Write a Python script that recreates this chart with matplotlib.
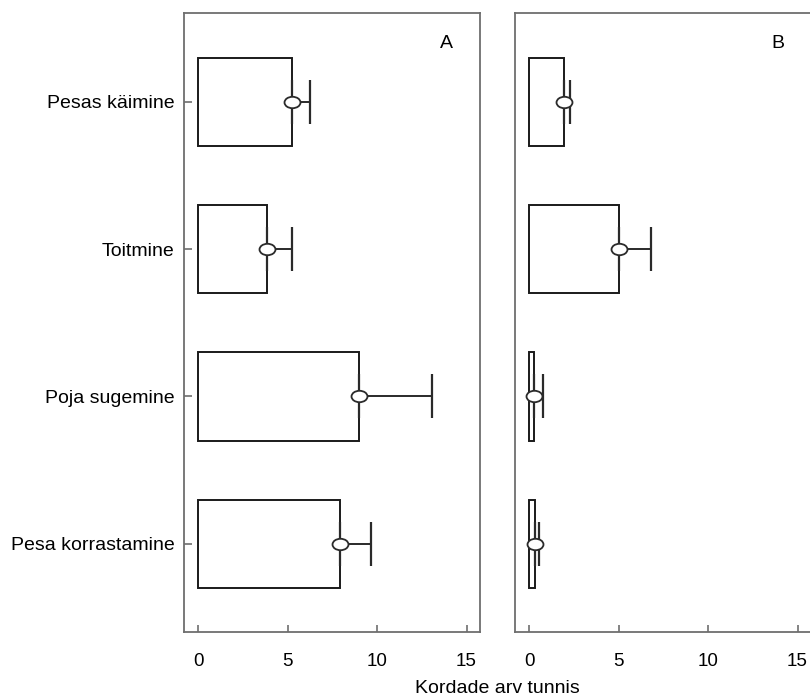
import matplotlib.pyplot as plt
from matplotlib.path import Path
from matplotlib.transforms import Affine2D

plt.rcParams['font.family'] = ['Liberation Sans', 'DejaVu Sans']

# andmed
categories = ['Pesas käimine', 'Toitmine', 'Poja sugemine', 'Pesa korrastamine']
a_mean = [5.23, 3.84, 8.98, 7.93]
a_se = [1.0, 1.4, 4.1, 1.75]
b_mean = [1.94, 5.03, 0.3, 0.33]
b_se = [0.33, 1.8, 0.45, 0.23]
x_ticks = [0, 5, 10, 15]

# ellipse marker
ellipse = Path.unit_circle().transformed(Affine2D().scale(1.4, 1.0))

fig = plt.figure(figsize=(8.1, 6.93), dpi=100)
ax_a = fig.add_axes([0.2275, 0.0876, 0.365, 0.8932])
ax_b = fig.add_axes([0.6362, 0.0876, 0.365, 0.8932])

pos = list(range(len(categories)))
spine_col = '#6e6e6e'

for ax, mean, se, letter in [(ax_a, a_mean, a_se, 'A'), (ax_b, b_mean, b_se, 'B')]:
    ax.barh(pos, mean, height=0.6, color='white', edgecolor='#1a1a1a',
            linewidth=1.4, zorder=2)
    ax.errorbar(mean, pos, xerr=[[0] * len(se), se], fmt='none',
                ecolor='#2a2a2a', elinewidth=1.4, capsize=15.5, capthick=1.6,
                zorder=3)
    ax.plot(mean, pos, linestyle='none', marker=ellipse, markersize=11.5,
            markerfacecolor='white', markeredgecolor='#2a2a2a',
            markeredgewidth=1.3, zorder=4)
    ax.set_xlim(-0.77, 15.75)
    ax.set_ylim(3.6, -0.6)
    ax.set_xticks(x_ticks)
    ax.tick_params(axis='x', direction='in', length=5, width=1.2,
                   color=spine_col, labelsize=13.5, pad=15)
    ax.tick_params(axis='y', direction='in', length=6, width=1.2,
                   color=spine_col, labelsize=14, pad=7)
    for s in ax.spines.values():
        s.set_color(spine_col)
        s.set_linewidth(1.3)
    ax.text(0.888, 0.952, letter, transform=ax.transAxes, ha='center',
            va='center', fontsize=14)

ax_a.set_yticks(pos)
ax_a.set_yticklabels(categories)
ax_b.set_yticks([])

fig.text(0.614, -0.006, 'Kordade arv tunnis', ha='center', va='bottom',
         fontsize=14)

plt.savefig('out.png', dpi=100)
